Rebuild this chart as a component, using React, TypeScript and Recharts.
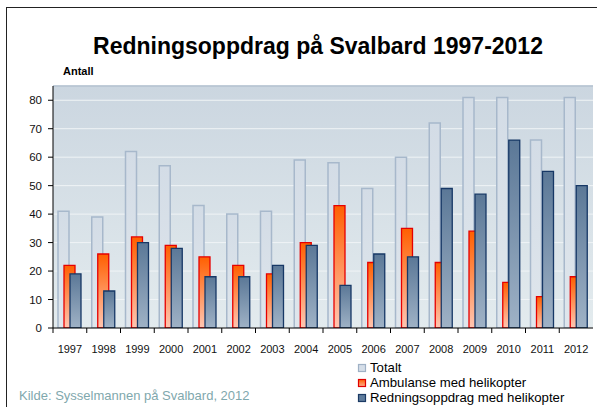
import React from 'react';
import { ComposedChart, Bar, XAxis, YAxis, CartesianGrid, Legend, ReferenceLine } from 'recharts';

const years = ['1997', '1998', '1999', '2000', '2001', '2002', '2003', '2004', '2005', '2006', '2007', '2008', '2009', '2010', '2011', '2012'];
const totalt = [41, 39, 62, 57, 43, 40, 41, 59, 58, 49, 60, 72, 81, 81, 66, 81];
const ambulanse = [22, 26, 32, 29, 25, 22, 19, 30, 43, 23, 35, 23, 34, 16, 11, 18];
const redning = [19, 13, 30, 28, 18, 18, 22, 29, 15, 26, 25, 49, 47, 66, 55, 50];
const yTicks = [0, 10, 20, 30, 40, 50, 60, 70, 80];

const title = 'Redningsoppdrag på Svalbard 1997-2012';
const yLabel = 'Antall';
const source = 'Kilde: Sysselmannen på Svalbard, 2012';
const seriesNames = ['Totalt', 'Ambulanse med helikopter', 'Redningsoppdrag med helikopter'];

const data = years.map((year, i) => ({
  year,
  totalt: totalt[i],
  ambulanse: ambulanse[i],
  redning: redning[i],
}));

const FONT = '"Liberation Sans", Arial, sans-serif';
const BAND = 540 / years.length;

const XTick = (props: any) => {
  const { x, y, payload } = props;
  return (
    <g>
      <line x1={x - BAND / 2} x2={x - BAND / 2} y1={y} y2={y + 5} stroke="#000" strokeWidth={1} />
      <text x={x} y={y + 25} textAnchor="middle" fontSize={11} fontFamily={FONT} fill="#111">
        {payload.value}
      </text>
    </g>
  );
};

const legendStyles = [
  { fill: '#d5dee8', stroke: '#9fb1c5' },
  { fill: 'url(#ambIcon)', stroke: '#e00000' },
  { fill: '#5f7c9c', stroke: '#1b3a64' },
];

const LegendContent = (props: any) => {
  const payload = [...(props.payload || [])].sort(
    (a: any, b: any) => seriesNames.indexOf(a.value) - seriesNames.indexOf(b.value)
  );
  return (
    <div style={{ fontFamily: FONT, fontSize: 13.2, color: '#000', textAlign: 'left' }}>
      {payload.map((p: any) => {
        const i = seriesNames.indexOf(p.value);
        return (
          <div key={p.value} style={{ display: 'flex', alignItems: 'center', height: 15, lineHeight: '15px', whiteSpace: 'nowrap' }}>
            <svg width={10} height={10} style={{ marginRight: 3 }}>
              <defs>
                <linearGradient id={'ambIcon'} x1="0" y1="0" x2="0" y2="1">
                  <stop offset="0%" stopColor="#ff6000" />
                  <stop offset="100%" stopColor="#ffb090" />
                </linearGradient>
              </defs>
              <rect x={1.5} y={1.5} width={7} height={7} fill={legendStyles[i].fill} stroke={legendStyles[i].stroke} strokeWidth={1.2} />
            </svg>
            <span>{p.value}</span>
          </div>
        );
      })}
    </div>
  );
};

export default function App() {
  return (
    <div style={{ position: 'absolute', left: 0, top: 0, width: 597, height: 407, overflow: 'hidden', background: '#fff' }}>
      <div style={{ position: 'absolute', left: 6, top: 7, width: 620, height: 420, borderTop: '1px solid #222', borderLeft: '1px solid #222' }} />
      <div style={{ position: 'absolute', left: 0, top: 33, width: 636, textAlign: 'center', fontFamily: FONT, fontWeight: 'bold', fontSize: 23, lineHeight: '26px', color: '#000' }}>
        {title}
      </div>
      <div style={{ position: 'absolute', left: 63, top: 65, fontFamily: FONT, fontWeight: 'bold', fontSize: 11, lineHeight: '13px', color: '#000' }}>
        {yLabel}
      </div>
      <div style={{ position: 'absolute', left: 19, top: 388, fontFamily: FONT, fontSize: 13, lineHeight: '16px', color: '#7fa8ad', whiteSpace: 'nowrap' }}>
        {source}
      </div>
      <div style={{ position: 'absolute', left: 0, top: 0 }}>
        <ComposedChart
          width={597}
          height={407}
          data={data}
          margin={{ top: 86, right: 4, bottom: 49, left: 0 }}
          barSize={11}
          barGap={-5}
        >
          <defs>
            <linearGradient id="plotBg" x1="0" y1="0" x2="0" y2="1">
              <stop offset="0%" stopColor="#cbd6e0" />
              <stop offset="100%" stopColor="#e3ebee" />
            </linearGradient>
            <linearGradient id="totGrad" x1="0" y1="0" x2="0" y2="1">
              <stop offset="0%" stopColor="#d3dce6" />
              <stop offset="100%" stopColor="#dfe6ec" />
            </linearGradient>
            <linearGradient id="ambGrad" x1="0" y1="0" x2="0" y2="1">
              <stop offset="0%" stopColor="#ff5f00" />
              <stop offset="100%" stopColor="#ffc6b2" />
            </linearGradient>
            <linearGradient id="redGrad" x1="0" y1="0" x2="0" y2="1">
              <stop offset="0%" stopColor="#5b7897" />
              <stop offset="100%" stopColor="#9fb2c6" />
            </linearGradient>
          </defs>
          <CartesianGrid vertical={false} stroke="#f0f4f6" strokeWidth={1} fill="url(#plotBg)" fillOpacity={1} />
          <XAxis
            dataKey="year"
            height={30}
            axisLine={{ stroke: '#000', strokeWidth: 1 }}
            tickLine={false}
            tickSize={0}
            tickMargin={0}
            interval={0}
            tick={<XTick />}
          />
          <YAxis
            width={53}
            domain={[0, 85]}
            ticks={yTicks}
            axisLine={{ stroke: '#000', strokeWidth: 1 }}
            tickLine={{ stroke: '#000' }}
            tickSize={5}
            tickMargin={6}
            tick={{ fontSize: 11.5, fontFamily: FONT, fill: '#111' }}
            allowDataOverflow
          />
          <YAxis
            yAxisId="r"
            orientation="right"
            width={0}
            domain={[0, 85]}
            tick={false}
            tickLine={false}
            axisLine={{ stroke: '#aebdcc', strokeWidth: 1.5 }}
          />
          <ReferenceLine y={85} stroke="#aebdcc" strokeWidth={1.5} />
          <Bar dataKey="totalt" name={seriesNames[0]} fill="url(#totGrad)" stroke="#a7b8cb" strokeWidth={1.5} isAnimationActive={false} />
          <Bar dataKey="ambulanse" name={seriesNames[1]} fill="url(#ambGrad)" stroke="#e60000" strokeWidth={1.3} isAnimationActive={false} />
          <Bar dataKey="redning" name={seriesNames[2]} fill="url(#redGrad)" stroke="#173866" strokeWidth={1.3} isAnimationActive={false} />
          <Legend
            layout="horizontal"
            verticalAlign="middle"
            align="center"
            content={<LegendContent />}
            wrapperStyle={{ position: 'absolute', left: 357, top: 360, width: 240, height: 46 }}
          />
        </ComposedChart>
      </div>
    </div>
  );
}
